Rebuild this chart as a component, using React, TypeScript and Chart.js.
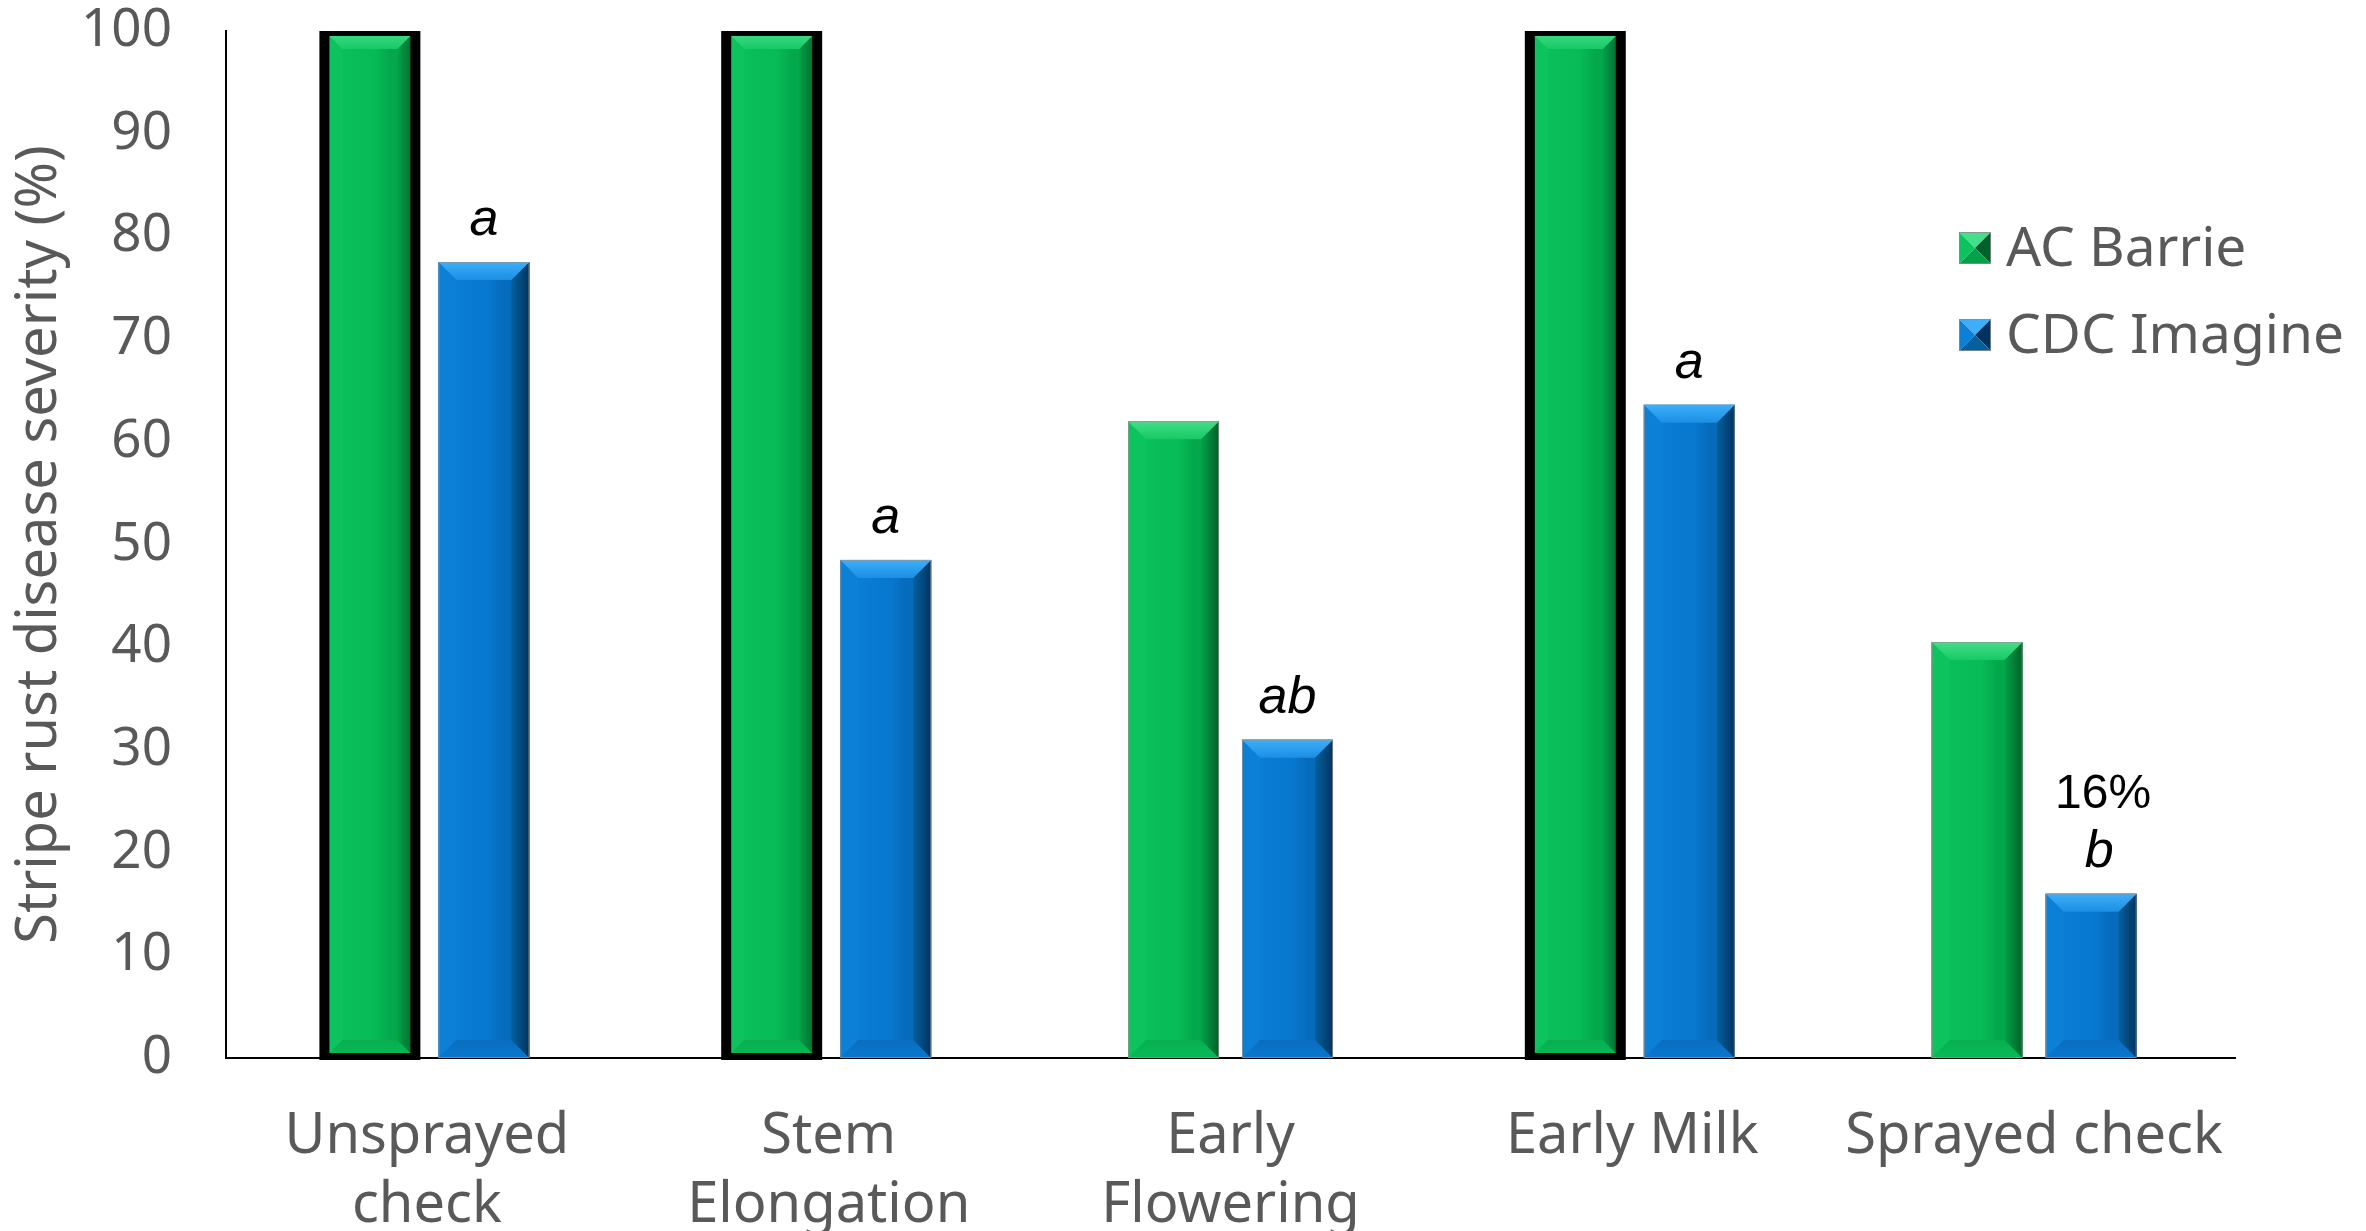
import React, { useEffect, useRef } from 'react';
import { Chart, registerables } from 'chart.js';

Chart.register(...registerables);

// Spray timing treatments
const stages: (string | string[])[] = [
  ['Unsprayed', 'check'],
  ['Stem', 'Elongation'],
  ['Early', 'Flowering'],
  'Early Milk',
  'Sprayed check',
];

// Stripe rust disease severity (%)
const acBarrieSeverity = [100, 100, 62, 100, 40.5];
const cdcImagineSeverity = [77.5, 48.5, 31, 63.6, 16];

// Mean separation letters for CDC Imagine
const imagineLetters = ['a', 'a', 'ab', 'a', 'b'];
// Which CDC Imagine bars also carry their value as a percentage
const imagineShowPercent = [false, false, false, false, true];
// AC Barrie bars drawn with a heavy black outline
const barrieOutlined = [true, true, false, true, false];

const seriesNames = ['AC Barrie', 'CDC Imagine'];

const W = 2366;
const H = 1231;
const TEXT_GREY = '#595959';
const FONT = "'Noto Sans', 'Open Sans', sans-serif";

type Palette = {
  base: string;
  bodyLeft: string;
  bodyRight: string;
  topA: string;
  topB: string;
  rightA: string;
  rightB: string;
  bottom: string;
  left: string;
};

const GREEN: Palette = {
  base: '#07BB56',
  bodyLeft: '#0BC25C',
  bodyRight: '#04A84C',
  topA: '#45DE8A',
  topB: '#17C964',
  rightA: '#04A148',
  rightB: '#02602A',
  bottom: '#08AE50',
  left: '#0DC35D',
};

const BLUE: Palette = {
  base: '#0878CF',
  bodyLeft: '#0C7FD6',
  bodyRight: '#066BBB',
  topA: '#3FAEF8',
  topB: '#1B8FE4',
  rightA: '#05609F',
  rightB: '#02335E',
  bottom: '#0A6DBF',
  left: '#0C80D6',
};

const palettes = [GREEN, BLUE];

function poly(ctx: CanvasRenderingContext2D, pts: number[][], fill: string | CanvasGradient) {
  ctx.beginPath();
  ctx.moveTo(pts[0][0], pts[0][1]);
  for (let i = 1; i < pts.length; i++) ctx.lineTo(pts[i][0], pts[i][1]);
  ctx.closePath();
  ctx.fillStyle = fill;
  ctx.fill();
}

function bevelBar(ctx: CanvasRenderingContext2D, L: number, T: number, R: number, B: number, p: Palette) {
  const w = R - L;
  const h = B - T;
  if (w <= 0 || h <= 0) return;
  const b = Math.min(18, w / 2, h / 2);

  // body shading, light on the left, darker toward the right
  const body = ctx.createLinearGradient(L, 0, R, 0);
  body.addColorStop(0, p.bodyLeft);
  body.addColorStop(0.55, p.base);
  body.addColorStop(0.72, p.bodyRight);
  body.addColorStop(1, p.bodyRight);
  ctx.fillStyle = body;
  ctx.fillRect(L, T, w, h);

  // left face
  poly(ctx, [[L, T], [L + b, T + b], [L + b, B - b], [L, B]], p.left);
  // bottom face
  const bot = ctx.createLinearGradient(0, B - b, 0, B);
  bot.addColorStop(0, p.bottom);
  bot.addColorStop(1, p.base);
  poly(ctx, [[L, B], [L + b, B - b], [R - b, B - b], [R, B]], bot);
  // right face
  const rt = ctx.createLinearGradient(R - b, 0, R, 0);
  rt.addColorStop(0, p.rightA);
  rt.addColorStop(1, p.rightB);
  poly(ctx, [[R, T], [R, B], [R - b, B - b], [R - b, T + b]], rt);
  // top face
  const tp = ctx.createLinearGradient(0, T, 0, T + b);
  tp.addColorStop(0, p.topA);
  tp.addColorStop(1, p.topB);
  poly(ctx, [[L, T], [R, T], [R - b, T + b], [L + b, T + b]], tp);

  // thin grey rim
  ctx.strokeStyle = 'rgba(150,150,150,0.7)';
  ctx.lineWidth = 1;
  ctx.strokeRect(L + 0.5, T + 0.5, w - 1, h - 1);
}

function pyramidMarker(ctx: CanvasRenderingContext2D, x: number, y: number, s: number, p: Palette) {
  const cx = x + s / 2;
  const cy = y + s / 2;
  poly(ctx, [[x, y], [x + s, y], [cx, cy]], p.topA);
  poly(ctx, [[x, y], [cx, cy], [x, y + s]], p.left);
  poly(ctx, [[x + s, y], [x + s, y + s], [cx, cy]], p.rightB);
  poly(ctx, [[x, y + s], [cx, cy], [x + s, y + s]], p.rightA);
  ctx.strokeStyle = 'rgba(140,140,140,0.8)';
  ctx.lineWidth = 1;
  ctx.strokeRect(x + 0.5, y + 0.5, s - 1, s - 1);
}

const bevelPlugin = {
  id: 'bevelBars',
  afterDatasetsDraw(chart: any) {
    const { ctx, chartArea } = chart;
    ctx.save();
    ctx.beginPath();
    ctx.rect(0, chartArea.top, W, chartArea.bottom - chartArea.top + 2);
    ctx.clip();
    chart.data.datasets.forEach((_ds: any, di: number) => {
      const meta = chart.getDatasetMeta(di);
      meta.data.forEach((bar: any) => {
        const half = bar.width / 2;
        const top = Math.min(bar.y, bar.base);
        const bottom = Math.max(bar.y, bar.base);
        bevelBar(ctx, bar.x - half, top, bar.x + half, bottom, palettes[di]);
      });
    });
    // heavy outline on the fully infected AC Barrie bars
    const barrie = chart.getDatasetMeta(0);
    barrie.data.forEach((bar: any, i: number) => {
      if (!barrieOutlined[i]) return;
      const half = bar.width / 2;
      ctx.strokeStyle = '#000000';
      ctx.lineWidth = 10;
      ctx.strokeRect(bar.x - half, bar.y, bar.width, bar.base - bar.y);
    });
    ctx.restore();
  },
  afterDraw(chart: any) {
    const { ctx, chartArea } = chart;
    ctx.save();
    // significance letters above the CDC Imagine bars
    const imagine = chart.getDatasetMeta(1);
    ctx.fillStyle = '#000000';
    ctx.textAlign = 'center';
    ctx.textBaseline = 'alphabetic';
    imagine.data.forEach((bar: any, i: number) => {
      const baseline = bar.y - 27;
      ctx.font = `italic 52px 'Liberation Sans', Arial, sans-serif`;
      ctx.fillText(imagineLetters[i], bar.x + (imagineShowPercent[i] ? 8 : 0), baseline);
      if (imagineShowPercent[i]) {
        ctx.font = `48px 'Liberation Sans', Arial, sans-serif`;
        ctx.fillText(`${cdcImagineSeverity[i]}%`, bar.x + 12, baseline - 59);
      }
    });

    // legend inside the plot, upper right
    const markerSize = 32;
    const mx = chartArea.right - 276;
    const rows = [chartArea.top + 217, chartArea.top + 304];
    ctx.textAlign = 'left';
    ctx.textBaseline = 'middle';
    ctx.font = `55px ${FONT}`;
    chart.data.datasets.forEach((ds: any, di: number) => {
      const cy = rows[di];
      pyramidMarker(ctx, mx, cy - markerSize / 2, markerSize, palettes[di]);
      ctx.fillStyle = TEXT_GREY;
      ctx.fillText(ds.label, mx + 47, cy + 2);
    });
    ctx.restore();
  },
};

export default function App() {
  const canvasRef = useRef<HTMLCanvasElement | null>(null);

  useEffect(() => {
    const canvas = canvasRef.current;
    if (!canvas) return;
    const chart = new Chart(canvas, {
      type: 'bar',
      data: {
        labels: stages,
        datasets: [
          {
            label: seriesNames[0],
            data: acBarrieSeverity,
            backgroundColor: GREEN.base,
            borderWidth: 0,
            categoryPercentage: 0.5675,
            barPercentage: 0.798,
          },
          {
            label: seriesNames[1],
            data: cdcImagineSeverity,
            backgroundColor: BLUE.base,
            borderWidth: 0,
            categoryPercentage: 0.5675,
            barPercentage: 0.798,
          },
        ],
      },
      options: {
        responsive: false,
        animation: false,
        events: [],
        layout: { padding: { top: 31, right: 131, bottom: 0, left: 0 } },
        plugins: {
          legend: { display: false },
          tooltip: { enabled: false },
        },
        scales: {
          x: {
            grid: { display: false, drawTicks: false },
            border: { display: true, color: '#000000', width: 2 },
            ticks: {
              color: TEXT_GREY,
              font: { family: FONT, size: 56, lineHeight: 1.24 },
              padding: 44,
              maxRotation: 0,
              minRotation: 0,
              autoSkip: false,
            },
            afterFit: (scale: any) => {
              scale.height = 173;
            },
          },
          y: {
            min: 0,
            max: 100,
            grid: { display: false, drawTicks: false },
            border: { display: true, color: '#000000', width: 2 },
            ticks: {
              stepSize: 10,
              color: TEXT_GREY,
              font: { family: FONT, size: 53 },
              padding: 54,
            },
            title: {
              display: true,
              text: 'Stripe rust disease severity (%)',
              color: TEXT_GREY,
              font: { family: FONT, size: 56 },
              padding: { top: 6, bottom: 0 },
            },
            afterFit: (scale: any) => {
              scale.width = 226;
              scale.paddingTop = 0;
              scale.paddingBottom = 0;
            },
          },
        },
      },
      plugins: [bevelPlugin],
    });
    return () => chart.destroy();
  }, []);

  return (
    <div style={{ position: 'fixed', left: 0, top: 0, width: W, height: H, background: '#ffffff' }}>
      <canvas ref={canvasRef} width={W} height={H} style={{ display: 'block', width: W, height: H }} />
    </div>
  );
}
